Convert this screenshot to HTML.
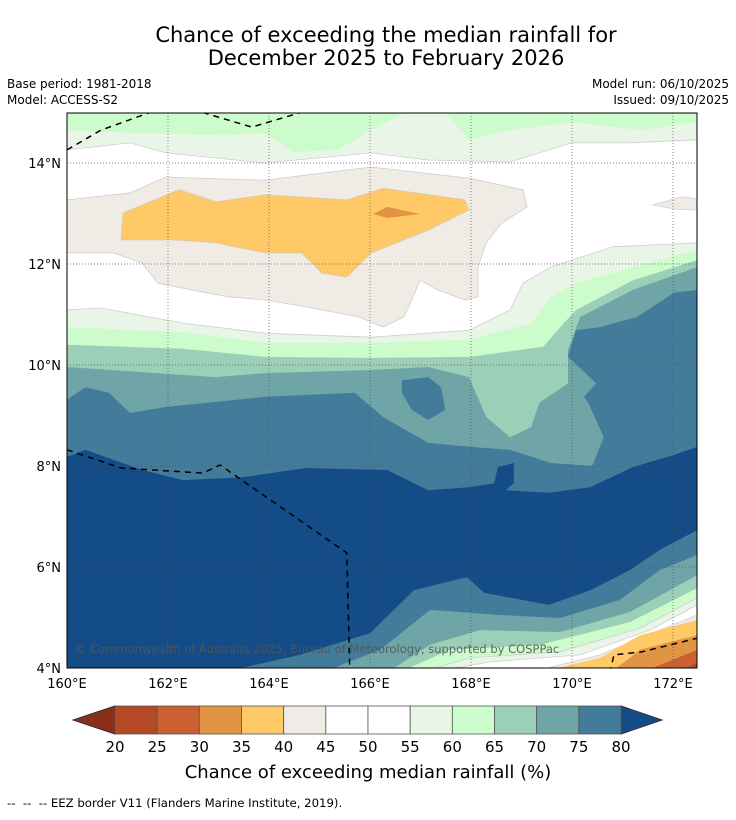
<!DOCTYPE html>
<html><head><meta charset="utf-8"><style>
html,body{margin:0;padding:0;background:#fff;}
body{width:736px;height:816px;overflow:hidden;font-family:"DejaVu Sans","Liberation Sans",sans-serif;}
</style></head><body>
<svg id="chart" width="736" height="816" viewBox="0 0 736 816" xmlns="http://www.w3.org/2000/svg" font-family="DejaVu Sans, Liberation Sans, sans-serif">
<text x="386" y="42" font-size="21" text-anchor="middle">Chance of exceeding the median rainfall for</text>
<text x="386" y="65" font-size="21" text-anchor="middle">December 2025 to February 2026</text>
<text x="7" y="88" font-size="12">Base period: 1981-2018</text>
<text x="7" y="104" font-size="12">Model: ACCESS-S2</text>
<text x="729" y="88" font-size="12" text-anchor="end">Model run: 06/10/2025</text>
<text x="729" y="104" font-size="12" text-anchor="end">Issued: 09/10/2025</text>
<defs><clipPath id="mapclip"><rect x="67" y="113" width="630" height="555"/></clipPath></defs>
<g id="map" clip-path="url(#mapclip)"></g>
<g id="axes"></g>
<g id="cbar"></g>
<text x="368" y="778" font-size="18" text-anchor="middle">Chance of exceeding median rainfall (%)</text>
<text x="7" y="807" font-size="11.7" xml:space="preserve">--  --  -- EEZ border V11 (Flanders Marine Institute, 2019).</text>
</svg>
<script>
const lonTicks=[160,162,164,166,168,170,172];
const latTicks=[4,6,8,10,12,14];
const cbLevels=[20,25,30,35,40,45,50,55,60,65,70,75,80];
const cbColors=["#b34a25","#c96132","#e09444","#fec966","#f0ebe4","#ffffff","#ffffff","#e9f5e6","#ccfccc","#9ccfb7","#6fa5a7","#437c9a"];
const cbLow="#8c2f1a", cbHigh="#144c87";
const L55=[[160,11.09],[160.67,11.13],[162.30,10.83],[163.92,10.63],[166.02,10.55],[167.96,10.69],[168.77,11.09],[169.03,11.62],[169.58,11.94],[170.81,12.34],[172.48,12.42]];
const L60=[[160,10.75],[162.30,10.65],[163.92,10.44],[166.02,10.44],[167.96,10.50],[169.19,10.83],[169.58,11.35],[170.08,11.62],[171.21,11.94],[172.48,12.28]];
const L65=[[160,10.40],[162.30,10.32],[163.92,10.16],[165.94,10.14],[167.96,10.16],[169.43,10.36],[169.84,10.83],[170.08,11.09],[171.21,11.68],[172.48,12.08]];
const L70=[[160,9.96],[162.95,9.76],[163.92,9.84],[166.02,9.90],[167.15,9.96],[167.96,9.76],[168.30,8.97],[168.77,8.57],[169.19,8.77],[169.35,9.25],[169.92,9.64],[169.92,10.30],[170.16,10.95],[171.21,11.49],[172.48,11.94]];
const L75=[[160,9.31],[160.36,9.56],[160.83,9.45],[161.25,9.05],[161.96,9.17],[163.92,9.37],[165.70,9.45],[166.26,8.97],[167.15,8.46],[167.96,8.38],[168.77,8.32],[169.58,8.06],[170.40,8.00],[170.63,8.57],[170.32,9.25],[170.24,9.37],[170.48,9.64],[169.92,10.16],[170.08,10.69],[170.55,10.75],[171.29,10.95],[172.02,11.43],[172.48,11.49]];
const L80=[[160,8.18],[160.36,8.32],[161.49,7.92],[162.30,7.72],[163.50,7.78],[164.73,7.96],[166.34,7.92],[167.15,7.52],[167.96,7.58],[168.46,7.66],[168.53,7.98],[168.85,8.06],[168.85,7.66],[168.69,7.52],[169.54,7.47],[170.36,7.58],[171.21,7.98],[172.02,8.22],[172.48,8.38]];
const island75=[[166.63,9.70],[167.15,9.76],[167.41,9.56],[167.49,9.11],[167.15,8.91],[166.83,9.11],[166.63,9.45]];
const S80=[[163.01,3.9],[164.61,4.26],[166.0,4.69],[166.87,5.54],[167.92,5.80],[168.26,5.49],[169.54,5.25],[170.36,5.54],[171.15,5.94],[171.74,6.34],[172.48,6.73]];
const S75=[[165.03,3.9],[166.2,4.36],[167.19,5.15],[168.57,5.05],[169.76,4.99],[170.95,5.35],[171.74,5.94],[172.48,6.24]];
const S70=[[166.32,3.9],[167.19,4.46],[168.18,4.75],[169.76,4.71],[171.15,5.11],[172.48,5.84]];
const S65=[[166.55,3.9],[167.58,4.36],[169.37,4.46],[171.15,4.91],[172.48,5.58]];
const S60=[[166.95,3.9],[167.98,4.2],[169.76,4.32],[171.35,4.79],[172.48,5.39]];
const S55=[[167.13,3.9],[168.38,4.12],[170.16,4.26],[171.54,4.75],[172.48,5.25]];
const S45=[[169.13,3.9],[170.55,4.26],[171.74,4.75],[172.48,5.05]];
const S40=[[169.31,3.9],[170.55,4.20],[171.35,4.65],[172.48,4.95]];
const S35=[[170.75,3.9],[171.35,4.36],[172.48,4.65]];
const S30=[[171.35,3.9],[172.48,4.36]];
const S25=[[172.14,3.9],[172.48,4.12]];
const T55=[[160,14.26],[161.25,14.40],[161.96,14.20],[163.92,14.00],[166.02,14.20],[167.15,14.06],[168.77,14.02],[170.0,14.40],[171.21,14.40],[172.48,14.46]];
const T60a=[[160,14.65],[161.49,14.59],[163.11,14.55],[163.92,14.59],[164.48,14.22],[165.37,14.26],[166.02,14.65],[166.91,15.1]];
const T60b=[[167.41,15.1],[167.96,14.46],[168.77,14.65],[170.0,14.81],[171.37,14.65],[172.48,14.81]];
const beige=[[160,13.27],[161.25,13.41],[161.96,13.72],[163.92,13.66],[166.02,13.92],[167.96,13.70],[169.03,13.47],[169.11,13.13],[168.61,12.81],[168.30,12.42],[168.14,11.94],[168.14,11.35],[167.88,11.29],[167.33,11.49],[166.99,11.68],[166.83,11.29],[166.67,10.95],[166.26,10.75],[165.78,10.95],[164.73,11.15],[163.92,11.29],[163.19,11.35],[162.46,11.49],[161.80,11.62],[161.49,12.02],[160.91,12.22],[160,12.22]];
const beige2=[[171.60,13.17],[172.18,13.33],[172.48,13.29],[172.48,13.07],[172.02,13.09]];
const orange=[[161.11,13.01],[162.22,13.47],[162.95,13.23],[163.92,13.37],[165.54,13.27],[166.26,13.50],[167.88,13.27],[167.96,13.07],[167.15,12.67],[166.02,12.22],[165.54,11.74],[165.05,11.82],[164.65,12.22],[163.92,12.22],[162.95,12.42],[162.14,12.48],[161.07,12.48]];
const darkOrange=[[166.06,12.99],[166.34,13.13],[166.99,12.99],[166.34,12.91]];
const eezA=[[160,8.32],[161.07,7.96],[162.69,7.86],[163.03,8.02],[165.54,6.28],[165.60,3.9]];
const eezB=[[160,14.26],[160.67,14.65],[161.64,15.0]];
const eezC=[[162.69,15.0],[163.66,14.71],[164.63,15.0]];
const eezD=[[170.75,3.9],[170.83,4.26],[171.39,4.32],[172.48,4.59]];

const NS="http://www.w3.org/2000/svg";
const X=lon=>67+(lon-160)*50.5;
const Y=lat=>668-(lat-4)*50.5;
const pts=a=>a.map(p=>X(p[0]).toFixed(1)+","+Y(p[1]).toFixed(1)).join(" ");
function mk(tag,attrs,parent){const e=document.createElementNS(NS,tag);for(const k in attrs)e.setAttribute(k,attrs[k]);parent.appendChild(e);return e;}
const map=document.getElementById('map');
let e=mk('rect',{x:67,y:113,width:630,height:555,fill:'#fff'},map);


function south(line,color,name,stroke){
  const poly=line.concat([[172.7,line[line.length-1][1]],[172.7,3.8],[159.8,3.8],[159.8,line[0][1]]]);
  const el=mk('polygon',{points:pts(poly),fill:color,stroke:stroke||'none','stroke-width':0.8},map);
  
  
}
function north(line,color,name,stroke){
  const poly=[[159.8,15.2]].concat([[159.8,line[0][1]]],line,[[172.7,line[line.length-1][1]],[172.7,15.2]]);
  const el=mk('polygon',{points:pts(poly),fill:color,stroke:stroke||'none','stroke-width':0.8},map);
  
  
}
function corner(line,color,name,stroke){
  const poly=line.concat([[172.7,line[line.length-1][1]],[172.7,3.8]]);
  const el=mk('polygon',{points:pts(poly),fill:color,stroke:stroke||'none','stroke-width':0.8},map);
  
  
}
function shape(a,color,name,stroke){
  const el=mk('polygon',{points:pts(a),fill:color,stroke:stroke||'none','stroke-width':0.8},map);
  
  
}
north(T55,cbColors[7],'contour-55-60-north','#cfcfcf');
shape(T60a.concat([[166.91,15.2],[159.8,15.2]]),cbColors[8],'contour-60-65-north-west');
shape(T60b.concat([[172.7,15.2],[167.41,15.2]]),cbColors[8],'contour-60-65-north-east');
shape(beige,cbColors[4],'contour-40-45-band','#cfcfcf');
shape(beige2,cbColors[4],'contour-40-45-patch','#cfcfcf');
shape(orange,cbColors[3],'contour-35-40-band','#d9c9b0');
shape(darkOrange,cbColors[2],'contour-30-35-patch');
south(L55,cbColors[7],'contour-55-60-south','#cfcfcf');
south(L60,cbColors[8],'contour-60-65-south');
south(L65,cbColors[9],'contour-65-70-south');
south(L70,cbColors[10],'contour-70-75-south');
south(L75,cbColors[11],'contour-75-80-south');
shape(island75,cbColors[11],'contour-75-80-island');
south(L80,cbHigh,'contour-above-80');
corner(S80,cbColors[11],'se-contour-75-80');
corner(S75,cbColors[10],'se-contour-70-75');
corner(S70,cbColors[9],'se-contour-65-70');
corner(S65,cbColors[8],'se-contour-60-65');
corner(S60,cbColors[7],'se-contour-55-60','#cfcfcf');
corner(S55,'#ffffff','se-contour-50-55','#cfcfcf');
corner(S45,cbColors[4],'se-contour-40-45','#cfcfcf');
corner(S40,cbColors[3],'se-contour-35-40');
corner(S35,cbColors[2],'se-contour-30-35');
corner(S30,cbColors[1],'se-contour-25-30');
corner(S25,cbColors[0],'se-contour-20-25');
lonTicks.forEach(l=>{const g=mk('line',{x1:X(l),x2:X(l),y1:113,y2:668,stroke:'#555','stroke-width':0.7,'stroke-dasharray':'1,2'},map);

});
latTicks.forEach(l=>{const g=mk('line',{x1:67,x2:697,y1:Y(l),y2:Y(l),stroke:'#555','stroke-width':0.7,'stroke-dasharray':'1,2'},map);

});
[eezA,eezB,eezC,eezD].forEach((a,i)=>{const p=mk('polyline',{points:pts(a),fill:'none',stroke:'#000','stroke-width':1.5,'stroke-dasharray':'6,5'},map);

});
const cp=mk('text',{x:75,y:653,'font-size':11.5,fill:'#555','fill-opacity':0.9},map);
cp.textContent='© Commonwealth of Australia 2025, Bureau of Meteorology, supported by COSPPac';


const ax=document.getElementById('axes');
const fr=mk('rect',{x:67,y:113,width:630,height:555,fill:'none',stroke:'#000','stroke-width':1},ax);


lonTicks.forEach(l=>{const t=mk('text',{x:X(l),y:688,'font-size':13,'text-anchor':'middle'},ax);t.textContent=l+'°E';

});
latTicks.forEach(l=>{const t=mk('text',{x:61,y:Y(l)+5,'font-size':13,'text-anchor':'end'},ax);t.textContent=l+'°N';

});
const cb=document.getElementById('cbar');
const cx0=115,cx1=621,cy0=706,cy1=734,bw=(cx1-cx0)/(cbLevels.length-1);
let t1=mk('polygon',{points:`${cx0},${cy0} ${cx0},${cy1} 73,720`,fill:cbLow,stroke:'#333','stroke-width':1},cb);


let t2=mk('polygon',{points:`${cx1},${cy0} ${cx1},${cy1} 662,720`,fill:cbHigh,stroke:'#333','stroke-width':1},cb);


cbColors.forEach((c,i)=>{const r=mk('rect',{x:cx0+i*bw,y:cy0,width:bw,height:cy1-cy0,fill:c,stroke:'#555','stroke-width':0.8},cb);

});
cbLevels.forEach((v,i)=>{const t=mk('text',{x:cx0+i*bw,y:752,'font-size':15,'text-anchor':'middle'},cb);t.textContent=v;

});
</script>
</body></html>
